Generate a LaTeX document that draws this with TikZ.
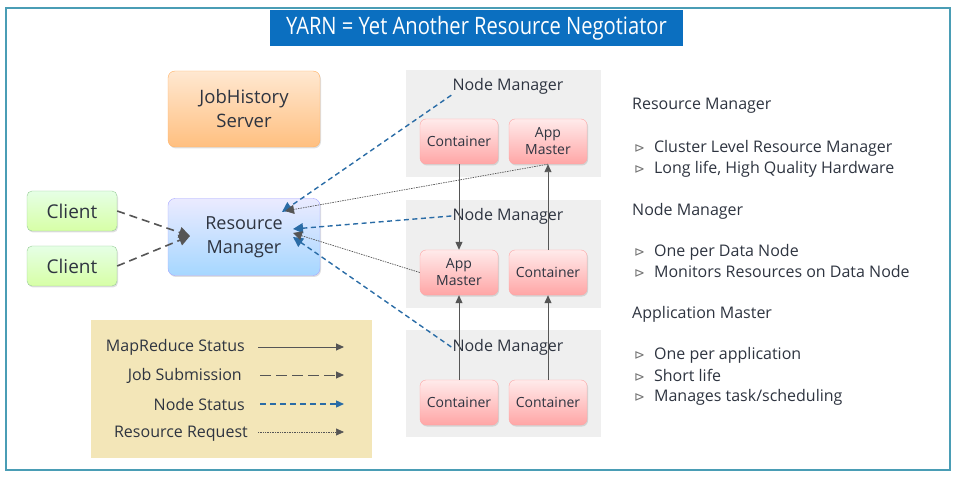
\documentclass[tikz,border=0pt]{standalone}
\usepackage{fontspec}
\setmainfont{Open Sans}
\newfontfamily\symfont{DejaVu Sans}
\usetikzlibrary{arrows.meta,shadows}
\definecolor{framecol}{HTML}{4A9DB5}
\definecolor{titleblue}{HTML}{0B6FC0}
\definecolor{arrgray}{HTML}{555555}
\definecolor{nsblue}{HTML}{2A6CA6}
\definecolor{panelgray}{HTML}{EFEFEF}
\definecolor{legendtan}{HTML}{F3E6B8}
\definecolor{txtdark}{HTML}{2E3440}
\newcommand{\bul}{{\symfont\color{gray!90!black}\fontsize{13}{15}\selectfont ⊳}\hspace{9pt}}
\begin{document}
\begin{tikzpicture}[x=1pt,y=-1pt]
\tikzstyle{box}=[rounded corners=7pt, draw, align=center, inner sep=1pt, text=txtdark,
  drop shadow={opacity=0.25, shadow xshift=1pt, shadow yshift=-1.5pt}]
\tikzstyle{jhbox}=[box, draw=orange!60, top color=orange!18, bottom color=orange!50, minimum width=152pt, minimum height=76pt, font=\fontsize{18.5}{24}\selectfont]
\tikzstyle{clbox}=[box, rounded corners=5pt, draw=green!50!black!40, top color=green!10, bottom color=green!45!yellow!35, minimum width=90pt, minimum height=40pt, font=\fontsize{19}{22}\selectfont]
\tikzstyle{rmbox}=[box, draw=blue!35, top color=blue!8, bottom color=cyan!55!blue!35, minimum width=152pt, minimum height=77pt, font=\fontsize{18}{24}\selectfont]
\tikzstyle{ctbox}=[box, rounded corners=6pt, draw=red!35, top color=red!8, bottom color=red!35, minimum width=78pt, minimum height=45pt, font=\fontsize{14}{17}\selectfont]
\tikzstyle{panel}=[fill=panelgray, minimum width=195pt, minimum height=107pt, inner sep=0pt]
\tikzstyle{nmlabel}=[text=txtdark, inner sep=1pt, font=\fontsize{16}{19}\selectfont]
\tikzstyle{leglabel}=[anchor=east, text=txtdark, inner sep=0pt, font=\fontsize{16}{19}\selectfont]
\tikzstyle{side}=[anchor=west, text=txtdark, inner sep=0pt, font=\fontsize{16}{19}\selectfont]
\tikzstyle{mrstat}=[arrgray, line width=0.9pt, -{Triangle[length=8pt,width=7pt]}]
\tikzstyle{jobsub}=[arrgray, line width=1.6pt, dash pattern=on 8pt off 5pt, -{Triangle[length=11pt,width=11pt]}]
\tikzstyle{nodestat}=[nsblue, line width=1.4pt, dash pattern=on 5pt off 3.5pt, -{Triangle[length=10pt,width=10pt]}]
\tikzstyle{resreq}=[arrgray, line width=0.7pt, dash pattern=on 1.5pt off 1pt, -{Triangle[length=9pt,width=9pt]}]
\useasboundingbox (0,0) rectangle (958,478);
\draw[framecol, line width=1.6pt] (6,8) rectangle (950,470);
\draw
node[fill=titleblue, text=white, minimum width=413pt, minimum height=36pt, font=\fontsize{24}{28}\selectfont](T)at(476.5,28){\scalebox{0.84}[1]{YARN = Yet Another Resource Negotiator}}
node[jhbox](JH)at(244,109){JobHistory\\Server}
node[clbox](CL1)at(72,211){Client}
node[clbox](CL2)at(72,266){Client}
node[rmbox](RM)at(244,237){Resource\\Manager}
node[panel](P1)at(503.5,123.5){}
node[panel](P2)at(503.5,254){}
node[panel](P3)at(503.5,383.5){}
node[nmlabel](NMa)at(508,86){Node Manager}
node[nmlabel](NMb)at(508,216){Node Manager}
node[nmlabel](NMc)at(508,347){Node Manager}
node[ctbox](C1)at(459,141.5){Container}
node[ctbox](AM1)at(548,141.5){App\\Master}
node[ctbox](AM2)at(459,272.5){App\\Master}
node[ctbox](C2)at(548,272.5){Container}
node[ctbox](C3)at(459,402.5){Container}
node[ctbox](C4)at(548,402.5){Container};

% ends inside the resource manager
\coordinate (rmJob) at (190,236);
\coordinate (rmNa) at (282,212);
\coordinate (rmNb) at (293,229);
\coordinate (rmNc) at (293,237);
\coordinate (rmRa) at (285,211);
\coordinate (rmRb) at (293,233);

\draw[mrstat](C1)--(AM2);
\draw[mrstat](C2)--(AM1);
\draw[mrstat](C3)--(AM2);
\draw[mrstat](C4)--(C2);
\draw[jobsub](CL1.east)--(rmJob);
\draw[jobsub](CL2.east)--(rmJob);
\draw[nodestat](NMa.south west)--(rmNa);
\draw[nodestat](NMb.west)--(rmNb);
\draw[nodestat](NMc.west)--(rmNc);
\draw[resreq](AM1.south)--(rmRa);
\draw[resreq](AM2.west)--(rmRb);

% legend
\draw
node[fill=legendtan, minimum width=281pt, minimum height=138pt](LG)at(231.5,389){}
node[leglabel](L1)at(245,347){MapReduce Status}
node[leglabel](L2)at(242,376){Job Submission}
node[leglabel](L3)at(245,404){Node Status}
node[leglabel](L4)at(248,434){Resource Request};
\coordinate (a1) at (258,347); \coordinate (b1) at (344,347);
\coordinate (a2) at (260,375); \coordinate (b2) at (344,375);
\coordinate (a3) at (260,404); \coordinate (b3) at (344,404);
\coordinate (a4) at (258,432); \coordinate (b4) at (344,432);
\draw[mrstat](a1)--(b1);
\draw[jobsub, line width=1pt, dash pattern=on 11pt off 5pt, -{Triangle[length=8pt,width=7pt]}](a2)--(b2);
\draw[nodestat, line width=1.3pt, dash pattern=on 6pt off 4pt, -{Triangle[length=8pt,width=7pt]}](a3)--(b3);
\draw[resreq, dash pattern=on 1pt off 0.7pt, -{Triangle[length=8pt,width=7pt]}](a4)--(b4);

% right side text
\draw
node[side](S1)at(632,106){Resource Manager}
node[side](S2)at(634,148){\bul Cluster Level Resource Manager}
node[side](S3)at(634,169){\bul Long life, High Quality Hardware}
node[side](S4)at(632,211){Node Manager}
node[side](S5)at(634,252){\bul One per Data Node}
node[side](S6)at(634,272){\bul Monitors Resources on Data Node}
node[side](S7)at(632,314){Application Master}
node[side](S8)at(634,355){\bul One per application}
node[side](S9)at(634,375){\bul Short life}
node[side](S10)at(634,397){\bul Manages task/scheduling};
\end{tikzpicture}
\end{document}
